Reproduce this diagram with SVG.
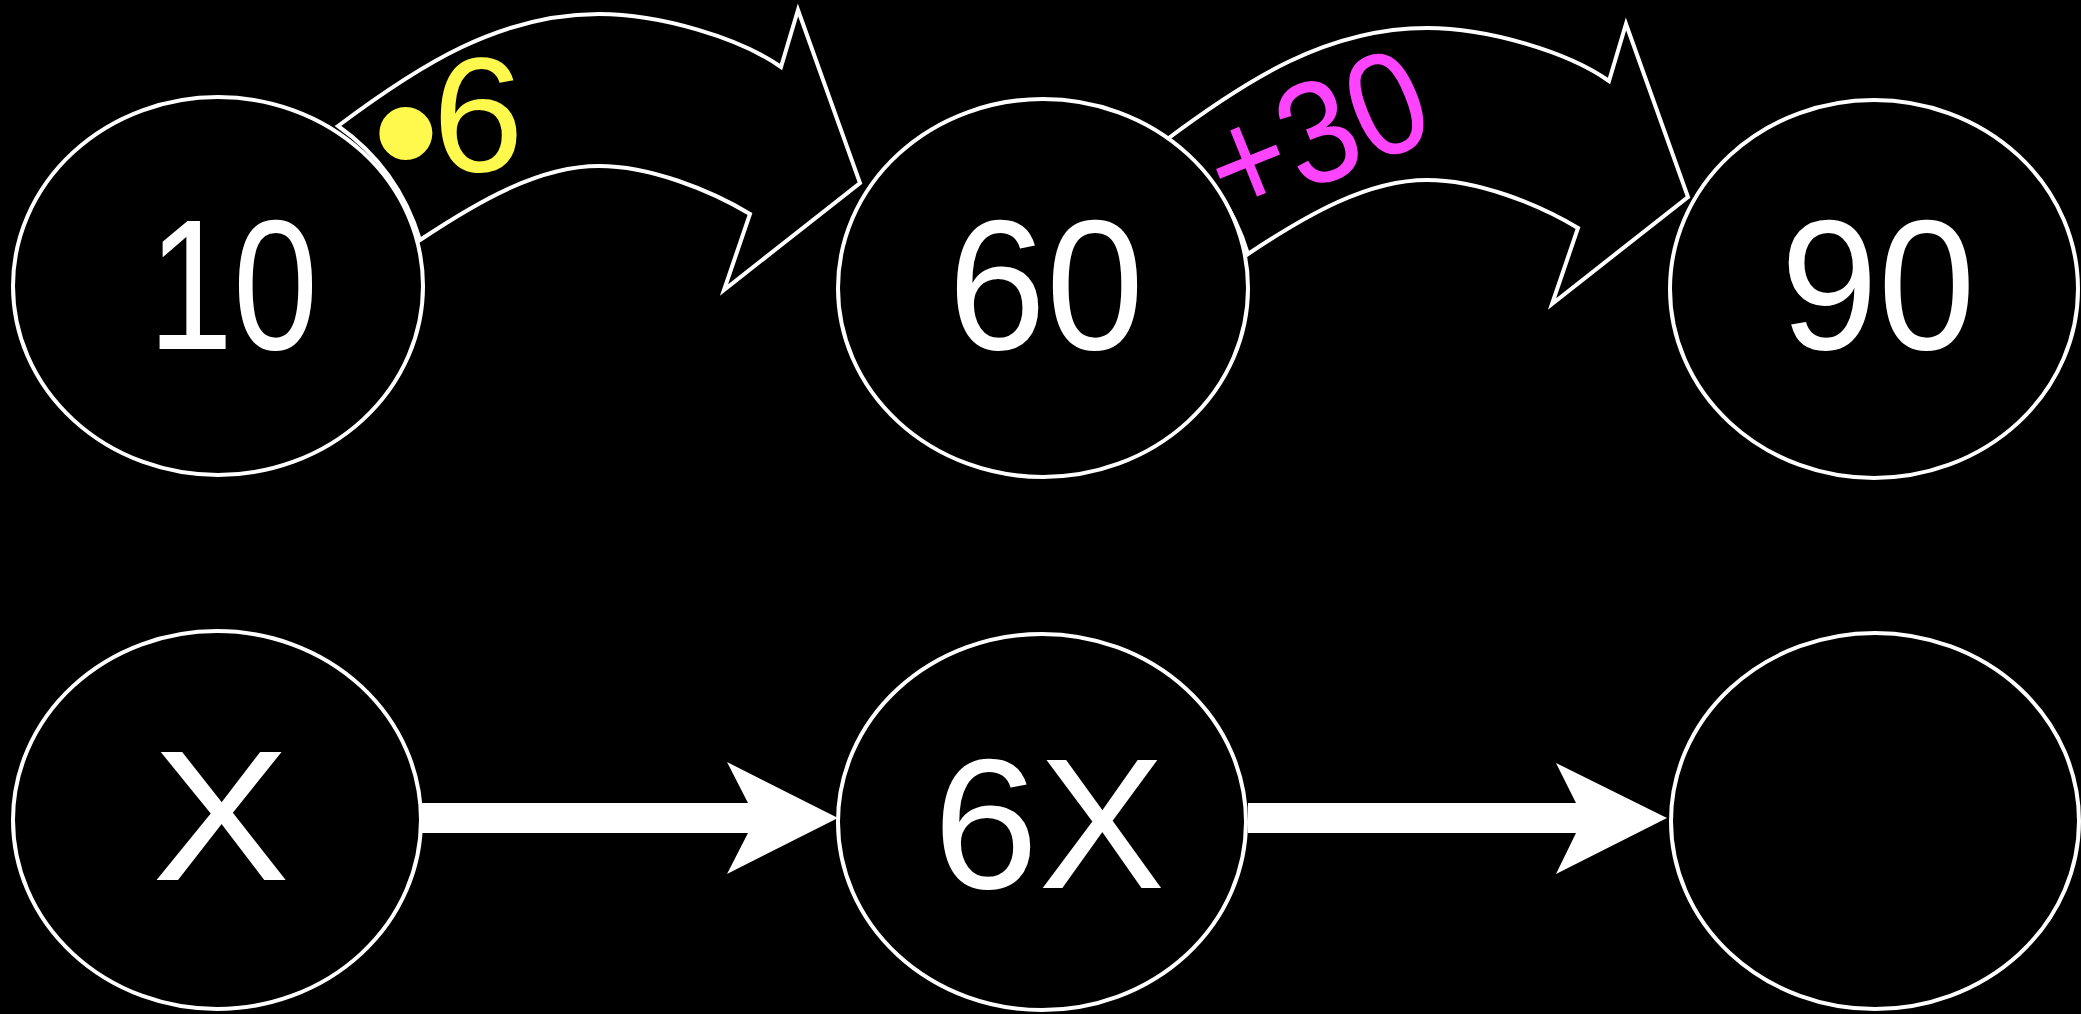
<svg xmlns="http://www.w3.org/2000/svg" width="2081" height="1014" viewBox="0 0 2081 1014">
<defs>
<style>
.node{fill:#000;stroke:#fff;stroke-width:4}
.num{fill:#fff;font-family:"Liberation Sans",Arial,sans-serif;font-size:185px;text-anchor:middle}
.curved{fill:#000;stroke:#fff;stroke-width:4;stroke-linejoin:miter}
.block{fill:#fff}
.lbl{font-family:"Liberation Sans",Arial,sans-serif;text-anchor:middle}
</style>
<path id="curveArrow" d="M338,126 C418,66 499,14 599,14 C660,14 740,38 781,67 L798,10 L860,183 L724,290 L750,214 C710,190 650,166 599,166 C540,166 480,200 420,240 Q398,168 338,126 Z"/>
</defs>
<rect width="2081" height="1014" fill="#000"/>
<g id="connectors">
<use href="#curveArrow" class="curved"/>
<use href="#curveArrow" class="curved" transform="translate(828,14)"/>
<text class="lbl" fill="#FFF84D"><tspan x="406" y="198" font-size="195">•</tspan><tspan x="478" y="171" font-size="164">6</tspan></text>
<text class="lbl" transform="translate(1335,179) rotate(-22)" font-size="146" fill="#FF44FF" textLength="226" lengthAdjust="spacingAndGlyphs">+30</text>
<path class="block" d="M421,803 L748,803 L727,762 L838,818 L727,874 L748,833 L421,833 Z"/>
<path class="block" d="M1248,803 L1576,803 L1556,763 L1667,818 L1556,874 L1576,833 L1248,833 Z"/>
</g>
<g id="node-10"><ellipse class="node" cx="218" cy="286" rx="205" ry="189"/><text class="num" x="233" y="349" textLength="170" lengthAdjust="spacingAndGlyphs">10</text></g>
<g id="node-60"><ellipse class="node" cx="1043" cy="288" rx="205" ry="189"/><text class="num" x="1046" y="349" textLength="196" lengthAdjust="spacingAndGlyphs">60</text></g>
<g id="node-90"><ellipse class="node" cx="1874" cy="289" rx="204" ry="189"/><text class="num" x="1878" y="349" textLength="195" lengthAdjust="spacingAndGlyphs">90</text></g>
<g id="node-x"><ellipse class="node" cx="217" cy="820" rx="204" ry="189"/><text class="num" x="221" y="880" textLength="138" lengthAdjust="spacingAndGlyphs">X</text></g>
<g id="node-6x"><ellipse class="node" cx="1042" cy="822" rx="204" ry="188"/><text class="num" x="1049" y="888" textLength="232" lengthAdjust="spacingAndGlyphs">6X</text></g>
<g id="node-empty"><ellipse class="node" cx="1875" cy="821" rx="204" ry="188"/></g>
</svg>
